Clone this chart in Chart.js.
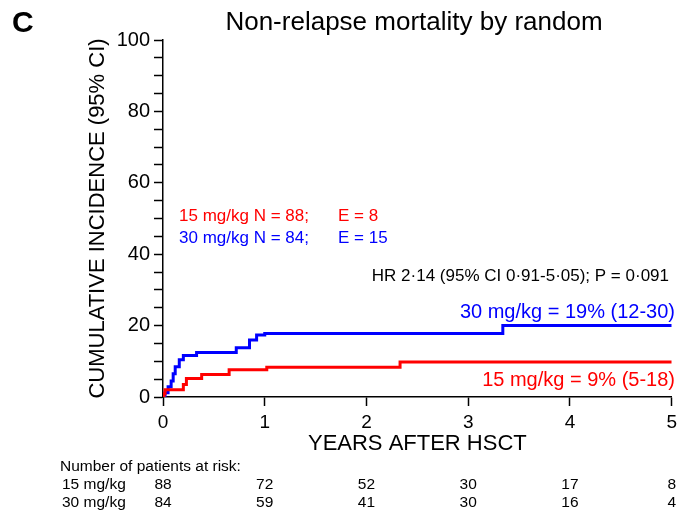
<!DOCTYPE html>
<html>
<head>
<meta charset="utf-8">
<script src="https://cdn.jsdelivr.net/npm/chart.js@4"></script>
<style>
  html, body { margin: 0; padding: 0; background: #fff; }
  #wrap { width: 682px; height: 515px; }
</style>
</head>
<body>
<div id="wrap"><canvas id="nrmChart" width="682" height="515"></canvas></div>
<script>
// Cumulative incidence steps (years, %)
const years15 = [0, 0.01, 0.02, 0.20, 0.23, 0.38, 0.65, 1.02, 2.33, 5];
const nrm15   = [0, 1.0,  2.0,  3.5,  5.2,  6.3,  7.6,  8.3,  9.8,  9.8];
const years30 = [0, 0.02, 0.05, 0.08, 0.10, 0.12, 0.16, 0.20, 0.33, 0.72, 0.85, 0.92, 1.0, 3.34, 5];
const nrm30   = [0, 1.2,  2.9,  4.5,  6.5,  8.5,  10.4, 11.6, 12.5, 13.8, 16.0, 17.4, 17.8, 20.0, 20.0];

// Number at risk
const riskYears = [0, 1, 2, 3, 4, 5];
const risk15 = [88, 72, 52, 30, 17, 8];
const risk30 = [84, 59, 41, 30, 16, 4];

const RED = '#ff0000';
const BLUE = '#0000ff';
const FONT = '"Liberation Sans", Arial, sans-serif';

const toPoints = (xs, ys) => xs.map((x, i) => ({ x: x, y: ys[i] }));

// extra text: panel letter, title, legend notes, risk table
const textPlugin = {
  id: 'textPlugin',
  afterDraw(chart) {
    const ctx = chart.ctx;
    const area = chart.chartArea;
    const xs = chart.scales.x;
    ctx.save();
    ctx.textBaseline = 'middle';

    ctx.fillStyle = '#000';
    ctx.font = 'bold 30px ' + FONT;
    ctx.textAlign = 'left';
    ctx.fillText('C', 12, 24);

    ctx.font = '26px ' + FONT;
    ctx.textAlign = 'center';
    ctx.fillText('Non-relapse mortality by random', 414, 23);

    ctx.font = '17px ' + FONT;
    ctx.textAlign = 'left';
    ctx.fillStyle = RED;
    ctx.fillText('15 mg/kg N = 88;', 179, 216);
    ctx.fillText('E = 8', 338, 216);
    ctx.fillStyle = BLUE;
    ctx.fillText('30 mg/kg N = 84;', 179, 238);
    ctx.fillText('E = 15', 338, 238);

    ctx.fillStyle = '#000';
    ctx.textAlign = 'right';
    ctx.fillText('HR 2\u00b714 (95% CI 0\u00b791-5\u00b705); P = 0\u00b7091', 669, 276);

    ctx.font = '20px ' + FONT;
    ctx.fillStyle = BLUE;
    ctx.fillText('30 mg/kg = 19% (12-30)', 675, 312);
    ctx.fillStyle = RED;
    ctx.fillText('15 mg/kg = 9% (5-18)', 675, 380);

    // risk table
    ctx.fillStyle = '#000';
    ctx.font = '15.5px ' + FONT;
    ctx.textAlign = 'left';
    ctx.fillText('Number of patients at risk:', 60, 467);
    ctx.fillText('15 mg/kg', 62, 485);
    ctx.fillText('30 mg/kg', 62, 503);
    ctx.textAlign = 'center';
    riskYears.forEach((yr, i) => {
      const px = xs.getPixelForValue(yr);
      ctx.fillText(String(risk15[i]), px, 485);
      ctx.fillText(String(risk30[i]), px, 503);
    });
    ctx.restore();
  }
};

const ctx = document.getElementById('nrmChart').getContext('2d');
const nrmChart = new Chart(ctx, {
  type: 'line',
  data: {
    datasets: [
      {
        label: '15 mg/kg',
        data: toPoints(years15, nrm15),
        borderColor: RED,
        borderWidth: 3,
        stepped: 'before',
        pointRadius: 0,
        fill: false
      },
      {
        label: '30 mg/kg',
        data: toPoints(years30, nrm30),
        borderColor: BLUE,
        borderWidth: 3,
        stepped: 'before',
        pointRadius: 0,
        fill: false
      }
    ]
  },
  options: {
    responsive: false,
    animation: false,
    layout: { padding: { top: 40, right: 9, left: 0, bottom: 0 } },
    plugins: {
      legend: { display: false },
      tooltip: { enabled: false }
    },
    scales: {
      x: {
        type: 'linear',
        min: 0,
        max: 5,
        afterFit(scale) { scale.height = 118; },
        border: { color: '#000', width: 1.5 },
        grid: { drawOnChartArea: false, color: '#000', tickLength: 9, tickWidth: 1.5 },
        ticks: { stepSize: 1, color: '#000', padding: 5, font: { family: FONT, size: 19 } },
        title: {
          display: true,
          text: 'YEARS AFTER HSCT',
          color: '#000',
          font: { family: FONT, size: 22 },
          padding: { top: 0, bottom: 58 }
        }
      },
      y: {
        min: 0,
        max: 100,
        afterFit(scale) { scale.width = 163; },
        border: { color: '#000', width: 1.5 },
        grid: { drawOnChartArea: false, color: '#000', tickLength: 9, tickWidth: 1.5 },
        ticks: {
          stepSize: 5,
          color: '#000',
          padding: 4,
          autoSkip: false,
          font: { family: FONT, size: 20 },
          callback: (v) => (v % 20 === 0 ? v : '')
        },
        title: {
          display: true,
          text: 'CUMULATIVE INCIDENCE (95% CI)',
          color: '#000',
          font: { family: FONT, size: 22 },
          padding: { top: 85, bottom: 0 }
        }
      }
    }
  },
  plugins: [textPlugin]
});
</script>
</body>
</html>
